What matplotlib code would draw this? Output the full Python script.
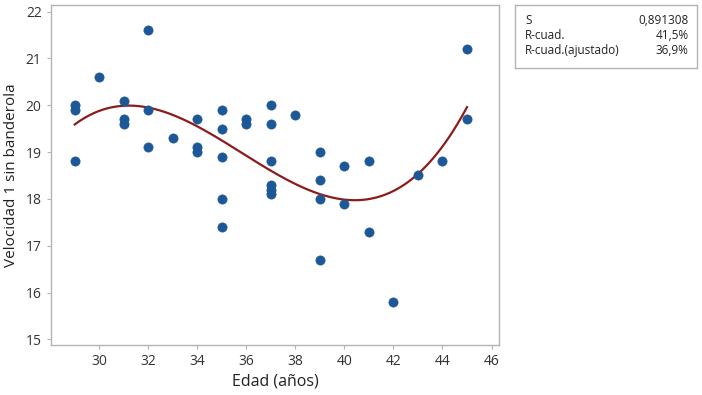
import numpy as np
import matplotlib
matplotlib.use('Agg')
import matplotlib.pyplot as plt

plt.rcParams['font.family'] = ['Open Sans', 'DejaVu Sans']

# edad (anos) and velocidad 1 sin banderola
edad = [29, 29, 29,
        30,
        31, 31, 31,
        32, 32, 32,
        33,
        34, 34, 34,
        35, 35, 35, 35, 35,
        36, 36,
        37, 37, 37, 37, 37, 37,
        38,
        39, 39, 39, 39,
        40, 40,
        41, 41,
        42,
        43,
        44,
        45, 45]
velocidad = [20.0, 19.9, 18.8,
             20.6,
             20.1, 19.7, 19.6,
             21.6, 19.9, 19.1,
             19.3,
             19.7, 19.1, 19.0,
             19.9, 19.5, 18.9, 18.0, 17.4,
             19.7, 19.6,
             20.0, 19.6, 18.8, 18.3, 18.2, 18.1,
             19.8,
             19.0, 18.4, 18.0, 16.7,
             18.7, 17.9,
             18.8, 17.3,
             15.8,
             18.5,
             18.8,
             21.2, 19.7]

stat_names = ['S', 'R-cuad.', 'R-cuad.(ajustado)']
stat_values = ['0,891308', '41,5%', '36,9%']

point_color = '#1d5896'
line_color = '#8c1c1c'
frame_color = '#b4b4b4'

fig = plt.figure(figsize=(7.02, 3.95), dpi=100)
ax = fig.add_axes([0.0722, 0.1266, 0.6388, 0.8608])

# cubic regression fit
coef = np.polyfit(edad, velocidad, 3)
xs = np.linspace(min(edad), max(edad), 200)
ax.plot(xs, np.polyval(coef, xs), color=line_color, lw=1.6, zorder=2)

ax.scatter(edad, velocidad, s=44, color=point_color, marker='o',
           edgecolors=point_color, linewidths=0.5, zorder=3)

ax.set_xlim(28.02, 46.31)
ax.set_ylim(14.88, 22.14)
ax.set_xticks(range(30, 47, 2))
ax.set_yticks(range(15, 23))

for sp in ax.spines.values():
    sp.set_color(frame_color)
    sp.set_linewidth(1.0)
ax.tick_params(colors=frame_color, labelcolor='#333333', labelsize=10, length=3, width=0.8)

ax.set_xlabel('Edad (años)', fontsize=11.5, color='#222222', labelpad=3)
ax.set_ylabel('Velocidad 1 sin banderola', fontsize=11, color='#222222', labelpad=5)

# summary box
box = fig.add_axes([515 / 702, 1 - 68 / 395, 182 / 702, 63 / 395])
box.set_xticks([])
box.set_yticks([])
for sp in box.spines.values():
    sp.set_color(frame_color)
    sp.set_linewidth(1.0)
for i, (name, val) in enumerate(zip(stat_names, stat_values)):
    yy = 0.76 - i * 0.245
    box.text(0.055, yy, name, fontsize=8.5, va='center', ha='left', color='#222222')
    box.text(0.955, yy, val, fontsize=8.5, va='center', ha='right', color='#222222')

fig.savefig('out.png', dpi=100)
